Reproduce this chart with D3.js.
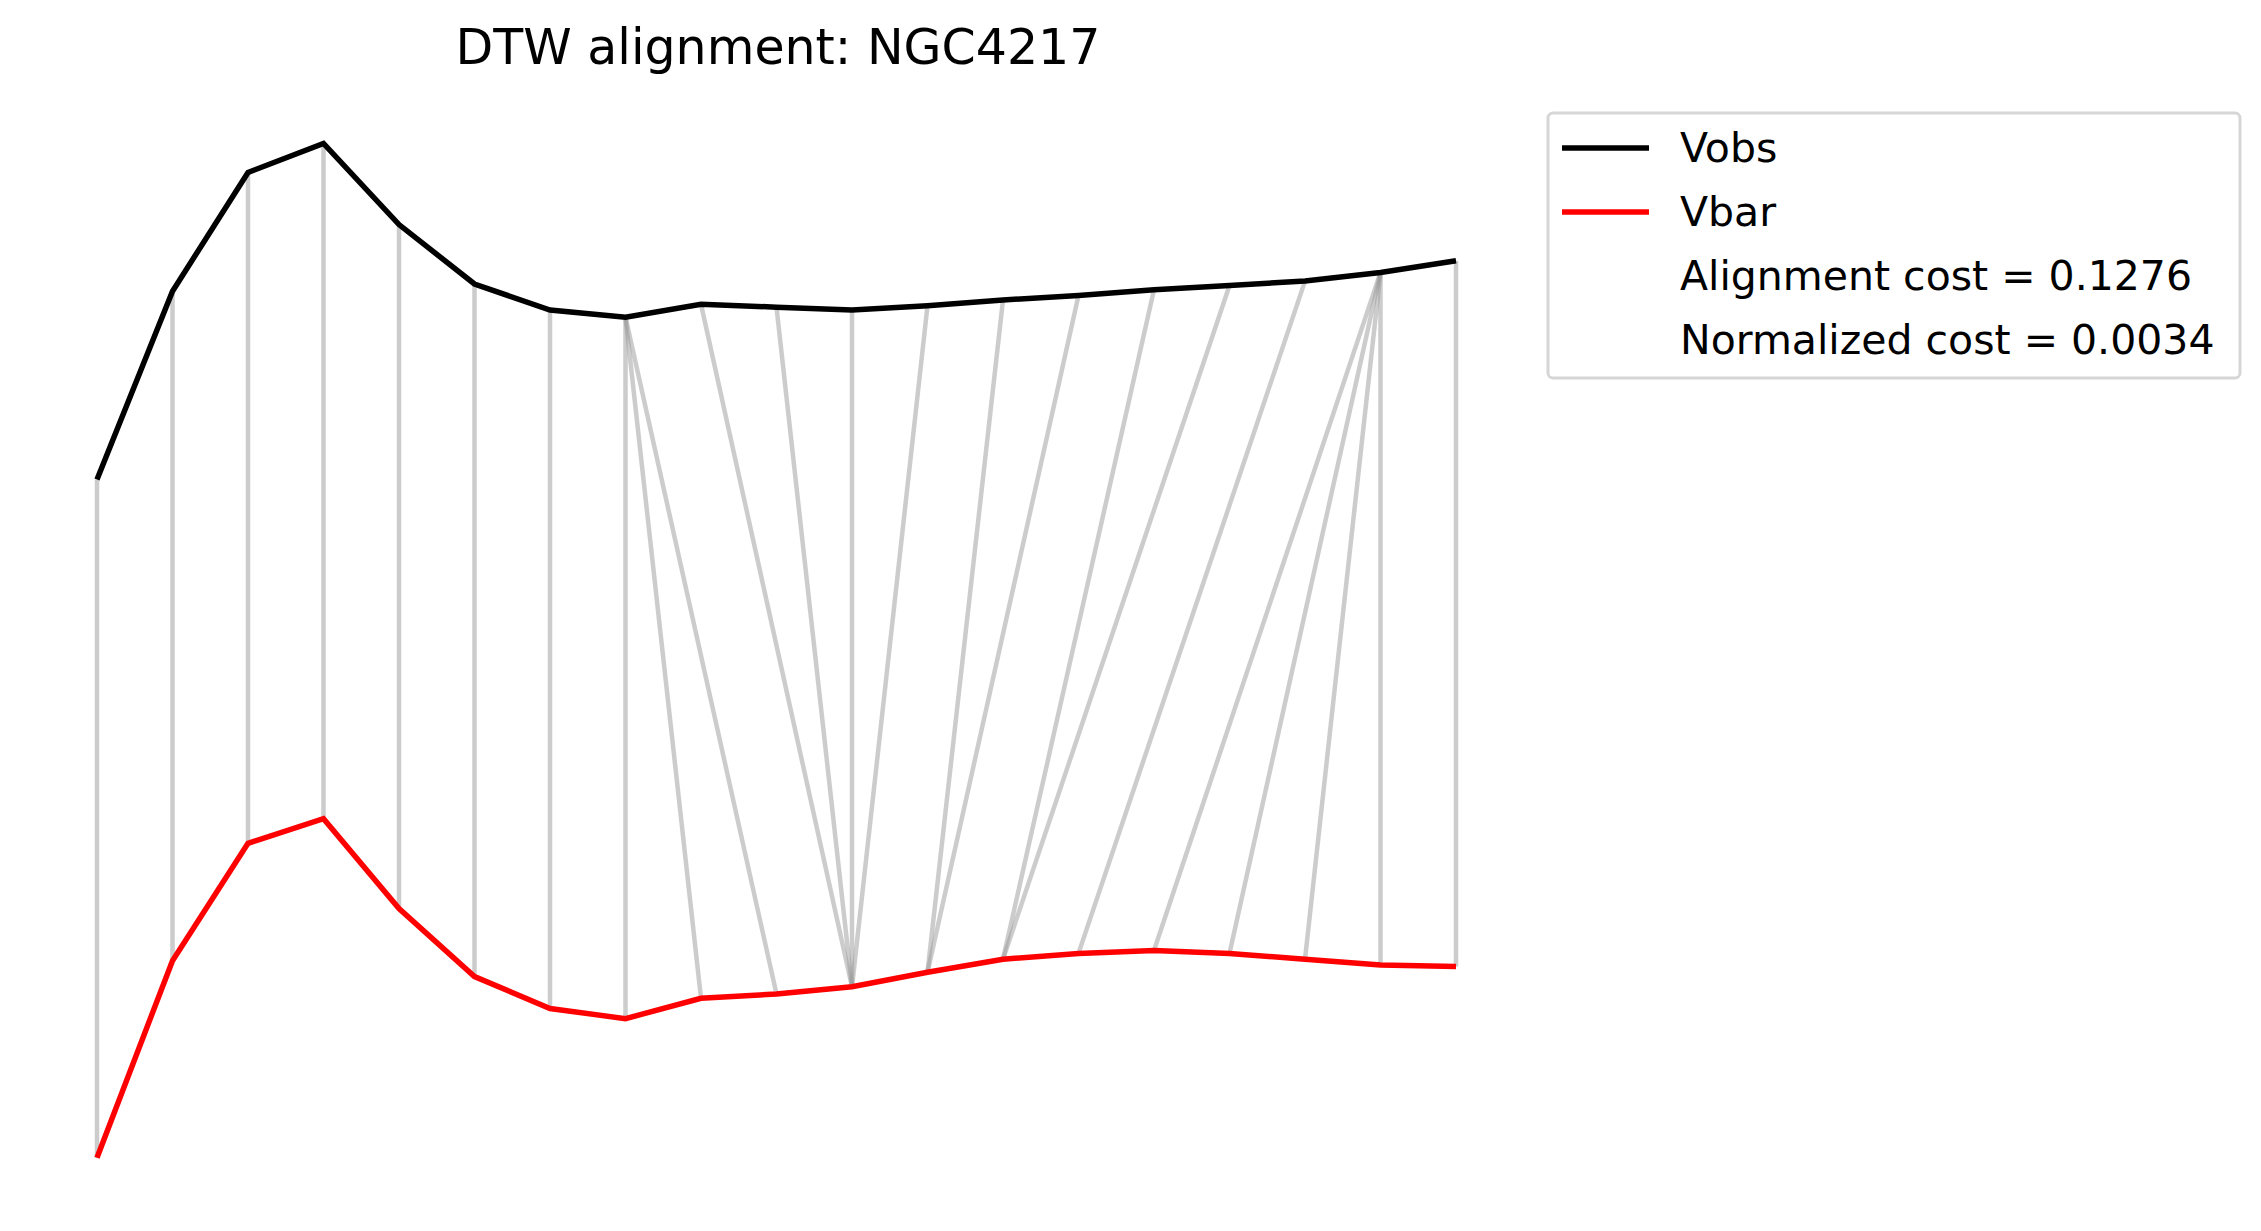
<!DOCTYPE html>
<html>
<head>
<meta charset="utf-8">
<script src="https://cdn.jsdelivr.net/npm/d3@7"></script>
<style>
  body { margin: 0; background: #fff; }
  text { font-family: "DejaVu Sans", sans-serif; }
</style>
</head>
<body>
<svg width="2261" height="1231"></svg>
<script>
// data (arbitrary units, index = radius bin)
const vobs = [519, 649, 731, 751, 695, 654, 636, 631, 640, 638, 636, 639, 643, 646, 650, 653, 656, 662, 670];
const vbar = [51, 187, 268, 285, 223, 176, 154, 147, 161, 164, 169, 179, 188, 192, 194, 192, 188, 184, 183];
// warping path: [obs index, bar index]
const path = [[0,0],[1,1],[2,2],[3,3],[4,4],[5,5],[6,6],[7,7],[7,8],[7,9],
  [8,10],[9,10],[10,10],[11,10],[12,11],[13,11],[14,12],[15,12],[16,13],
  [17,14],[17,15],[17,16],[17,17],[18,18]];
const title = "DTW alignment: NGC4217";
const legendItems = [
  {label: "Vobs", color: "#000"},
  {label: "Vbar", color: "#ff0000"},
  {label: "Alignment cost = 0.1276", color: null},
  {label: "Normalized cost = 0.0034", color: null}
];

let svg = d3.select('svg');

let xScale = d3.scaleLinear().domain([0, vobs.length - 1]).range([97, 1456]);
let yScale = d3.scaleLinear().domain([0, 850]).range([1231.6, 0]);

// alignment connectors
svg.append('g').selectAll('line').data(path).join('line')
  .attr('x1', d => xScale(d[0])).attr('y1', d => yScale(vobs[d[0]]))
  .attr('x2', d => xScale(d[1])).attr('y2', d => yScale(vbar[d[1]]))
  .attr('stroke', '#999').attr('stroke-opacity', 0.5).attr('stroke-width', 4.5);

let line = d3.line().x((d, i) => xScale(i)).y(d => yScale(d));
svg.append('path').attr('d', line(vobs)).attr('fill', 'none')
  .attr('stroke', '#000').attr('stroke-width', 5.5);
svg.append('path').attr('d', line(vbar)).attr('fill', 'none')
  .attr('stroke', '#ff0000').attr('stroke-width', 5.5);

svg.append('text').attr('x', 778).attr('y', 64).attr('text-anchor', 'middle')
  .attr('font-size', 49).text(title);

// legend
let lg = svg.append('g');
lg.append('rect').attr('x', 1548).attr('y', 113).attr('width', 692).attr('height', 265)
  .attr('rx', 5).attr('fill', '#fff').attr('stroke', '#d6d6d6').attr('stroke-width', 3);
legendItems.forEach((d, i) => {
  let cy = 148 + i * 64;
  if (d.color) {
    lg.append('line').attr('x1', 1562).attr('x2', 1649).attr('y1', cy).attr('y2', cy)
      .attr('stroke', d.color).attr('stroke-width', 5.5);
  }
  lg.append('text').attr('x', 1680).attr('y', cy + 14).attr('font-size', 41).text(d.label);
});
</script>
</body>
</html>
